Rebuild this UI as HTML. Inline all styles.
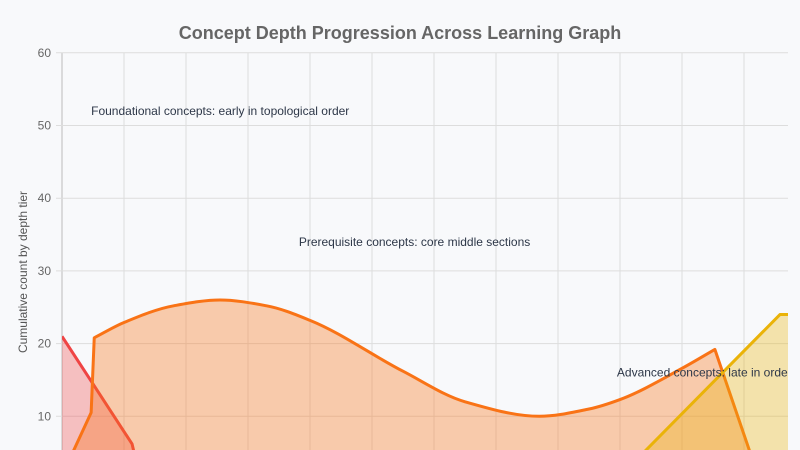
<!DOCTYPE html>
<html><head><meta charset="utf-8">
<style>
html,body{margin:0;padding:0;background:#f8f9fb;overflow:hidden;width:800px;height:450px;}
svg{display:block;font-family:"Liberation Sans",Arial,sans-serif;}
</style></head>
<body>
<svg id="chart" width="800" height="450" viewBox="0 0 800 450">
<defs>
<clipPath id="clip"><rect x="62" y="40" width="726" height="410"/></clipPath>
</defs>
<rect width="800" height="450" fill="#f8f9fb"/>
<text x="400" y="39" text-anchor="middle" font-size="18" font-weight="bold" fill="#666">Concept Depth Progression Across Learning Graph</text>
<text transform="translate(27,272) rotate(-90)" text-anchor="middle" font-size="12" fill="#555">Cumulative count by depth tier</text>
<g id="grid"></g>
<g id="series"></g>
<g id="annots" clip-path="url(#clip)"></g>
</svg>
<script>
const yTicks = [10, 20, 30, 40, 50, 60];
const xGridCount = 13;
const redX = [0, 1.13, 1.3];
const redY = [21, 6.2, 0];
const orangeX = [-0.1, 0.47, 0.52, 1, 1.8, 2.55, 3.3, 4, 5.5, 6.5, 7.7, 8.5, 9, 10, 10.53, 11.3];
const orangeY = [0, 10.5, 20.8, 22.9, 25.2, 26, 25.2, 23.2, 16.2, 12, 10, 11, 12.3, 16.6, 19.2, 0];
const yellowX = [8.8, 11.58, 12];
const yellowY = [0, 24, 24];
const annotTexts = ["Foundational concepts: early in topological order", "Prerequisite concepts: core middle sections", "Advanced concepts: late in order"];
const annotX = [0.47, 3.82, 8.95];
const annotY = [52, 34, 16];

const NS = "http://www.w3.org/2000/svg";
const left = 62, right = 788, step = 62;
function xs(u){ return left + u * step; }
function ys(v){ return 489 - v * 7.27; }
function mk(tag, attrs, parent){ const e = document.createElementNS(NS, tag); for (const k in attrs) e.setAttribute(k, attrs[k]); parent.appendChild(e); return e; }

const grid = document.getElementById('grid');
for (let i = 0; i < xGridCount; i++) {
  const x = xs(i);
  if (x > right) break;
  const l = mk('line', {x1:x, x2:x, y1:53, y2:450, stroke: i===0 ? '#bbb' : '#ddd', 'stroke-width':1}, grid);
  
  
}
yTicks.forEach(t => {
  const y = ys(t);
  const l = mk('line', {x1:left-6, x2:right, y1:y, y2:y, stroke:'#ddd', 'stroke-width':1}, grid);
  
  
  const tx = mk('text', {x:51, y:y+4, 'text-anchor':'end', 'font-size':12, fill:'#666'}, grid);
  tx.textContent = t;
  
  
});

// monotone cubic through points [s..e], linear elsewhere
function pathD(X, Y, s, e){
  const p = X.map((x,i)=>[xs(x), ys(Y[i])]);
  let d = 'M' + p[0][0] + ',' + p[0][1];
  const n = p.length;
  const m = new Array(n).fill(0);
  if (s !== undefined) {
    const dk = [];
    for (let i = s; i < e; i++) dk[i] = (p[i+1][1]-p[i][1])/(p[i+1][0]-p[i][0]);
    for (let i = s; i <= e; i++) {
      if (i === s) m[i] = dk[i];
      else if (i === e) m[i] = dk[i-1];
      else if (dk[i-1]*dk[i] <= 0) m[i] = 0;
      else {
        const h0 = p[i][0]-p[i-1][0], h1 = p[i+1][0]-p[i][0];
        m[i] = 3*(h0+h1)/((2*h1+h0)/dk[i-1] + (h1+2*h0)/dk[i]);
      }
    }
  }
  for (let i = 0; i < n-1; i++) {
    if (s !== undefined && i >= s && i < e) {
      const h = (p[i+1][0]-p[i][0])/3;
      d += ' C' + (p[i][0]+h) + ',' + (p[i][1]+m[i]*h) + ' ' + (p[i+1][0]-h) + ',' + (p[i+1][1]-m[i+1]*h) + ' ' + p[i+1][0] + ',' + p[i+1][1];
    } else d += ' L' + p[i+1][0] + ',' + p[i+1][1];
  }
  return {d, first:p[0], last:p[n-1]};
}
const series = document.getElementById('series');
function draw(X, Y, stroke, fill, name, s, e){
  const r = pathD(X, Y, s, e);
  const g = mk('g', {'clip-path':'url(#clip)'}, series);
  
  
  const a = mk('path', {d: r.d + ' L' + r.last[0] + ',' + ys(0) + ' L' + r.first[0] + ',' + ys(0) + ' Z', fill: fill, stroke:'none'}, g);
  
  
  const l = mk('path', {d: r.d, fill:'none', stroke: stroke, 'stroke-width':3, 'stroke-linejoin':'round'}, g);
  
  
}
draw(redX, redY, '#ef4444', 'rgba(239,68,68,0.32)', 'foundational-series');
draw(orangeX, orangeY, '#f97316', 'rgba(249,115,22,0.35)', 'prerequisite-series', 2, orangeX.length - 2);
draw(yellowX, yellowY, '#eab308', 'rgba(234,179,8,0.33)', 'advanced-series');

const an = document.getElementById('annots');
annotTexts.forEach((t,i) => {
  const e = mk('text', {x: xs(annotX[i]), y: ys(annotY[i]) + 4, 'font-size':12, fill:'#2d3748'}, an);
  e.textContent = t;
  
  
});
</script>
</body></html>
